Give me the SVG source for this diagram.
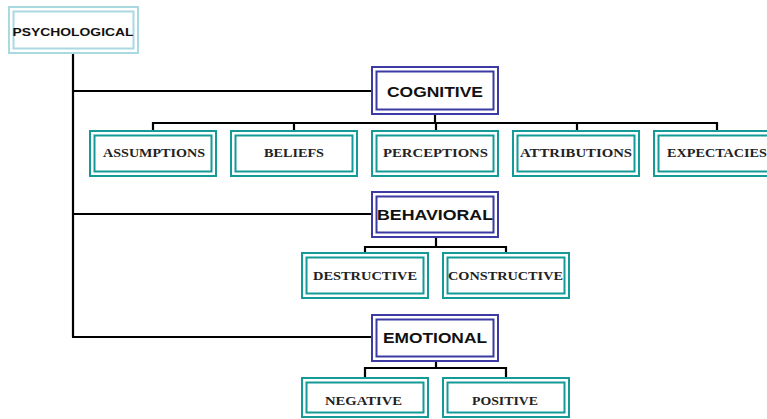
<svg xmlns="http://www.w3.org/2000/svg" width="767" height="419" viewBox="0 0 767 419">
<style>
.o{fill:#fff;stroke-width:2}
.i{fill:none;stroke-width:2}
.psy{stroke:#a9d9e1}
.par{stroke:#3b3ba3}
.ch{stroke:#149b97}
.ts{font-family:"Liberation Sans",Arial,sans-serif;font-weight:bold;fill:#111;text-anchor:middle}
.tr{font-family:"Liberation Serif","Times New Roman",serif;font-weight:bold;fill:#222;text-anchor:middle;font-size:11.5px}
.c{stroke:#000;stroke-width:2.2;fill:none}
</style>
<rect width="767" height="419" fill="#fff"/>
<g id="connectors">
<path class="c" d="M73 53V337M72 91H372M72 214H372M72 337H372" stroke-width="2.6"/>
<path class="c" d="M435 114V123M153 131V123H717V131M294 123V131M436 123V131M577 123V131"/>
<path class="c" d="M436 237V247M365 253V247H506V253"/>
<path class="c" d="M436 361V368M365 378V368H506V378"/>
</g>
<g id="psychological">
<rect class="o psy" x="9" y="7" width="129" height="46"/>
<rect class="i psy" x="13.5" y="11.5" width="120" height="37"/>
<text class="ts" x="73" y="35.5" font-size="11.5" textLength="121" lengthAdjust="spacingAndGlyphs">PSYCHOLOGICAL</text>
</g>
<g id="cognitive">
<rect class="o par" x="372" y="67" width="126" height="47"/>
<rect class="i par" x="376.5" y="71.5" width="117" height="38"/>
<text class="ts" x="435" y="97" font-size="15" textLength="96" lengthAdjust="spacingAndGlyphs">COGNITIVE</text>
</g>
<g id="assumptions">
<rect class="o ch" x="90" y="131" width="126" height="45"/>
<rect class="i ch" x="94.5" y="135.5" width="117" height="36"/>
<text class="tr" x="154" y="157" textLength="102" lengthAdjust="spacingAndGlyphs">ASSUMPTIONS</text>
</g>
<g id="beliefs">
<rect class="o ch" x="231" y="131" width="126" height="45"/>
<rect class="i ch" x="235.5" y="135.5" width="117" height="36"/>
<text class="tr" x="294" y="157" textLength="60" lengthAdjust="spacingAndGlyphs">BELIEFS</text>
</g>
<g id="perceptions">
<rect class="o ch" x="372" y="131" width="126" height="45"/>
<rect class="i ch" x="376.5" y="135.5" width="117" height="36"/>
<text class="tr" x="435.5" y="157" textLength="105" lengthAdjust="spacingAndGlyphs">PERCEPTIONS</text>
</g>
<g id="attributions">
<rect class="o ch" x="513" y="131" width="126" height="45"/>
<rect class="i ch" x="517.5" y="135.5" width="117" height="36"/>
<text class="tr" x="576" y="157" textLength="112" lengthAdjust="spacingAndGlyphs">ATTRIBUTIONS</text>
</g>
<g id="expectacies">
<rect class="o ch" x="654" y="131" width="126" height="45"/>
<rect class="i ch" x="658.5" y="135.5" width="117" height="36"/>
<text class="tr" x="717" y="157" textLength="100" lengthAdjust="spacingAndGlyphs">EXPECTACIES</text>
</g>
<g id="behavioral">
<rect class="o par" x="372" y="192" width="126" height="45"/>
<rect class="i par" x="376.5" y="196.5" width="117" height="36"/>
<text class="ts" x="435" y="220" font-size="15" textLength="116" lengthAdjust="spacingAndGlyphs">BEHAVIORAL</text>
</g>
<g id="destructive">
<rect class="o ch" x="302" y="253" width="126" height="45"/>
<rect class="i ch" x="306.5" y="257.5" width="117" height="36"/>
<text class="tr" x="365" y="280" textLength="104" lengthAdjust="spacingAndGlyphs">DESTRUCTIVE</text>
</g>
<g id="constructive">
<rect class="o ch" x="443" y="253" width="126" height="45"/>
<rect class="i ch" x="447.5" y="257.5" width="117" height="36"/>
<text class="tr" x="505.5" y="280" textLength="115" lengthAdjust="spacingAndGlyphs">CONSTRUCTIVE</text>
</g>
<g id="emotional">
<rect class="o par" x="372" y="315" width="126" height="46"/>
<rect class="i par" x="376.5" y="319.5" width="117" height="37"/>
<text class="ts" x="435" y="343" font-size="15" textLength="104" lengthAdjust="spacingAndGlyphs">EMOTIONAL</text>
</g>
<g id="negative">
<rect class="o ch" x="302" y="378" width="126" height="39"/>
<rect class="i ch" x="306.5" y="382.5" width="117" height="30"/>
<text class="tr" x="363.5" y="404.5" textLength="77" lengthAdjust="spacingAndGlyphs">NEGATIVE</text>
</g>
<g id="positive">
<rect class="o ch" x="443" y="378" width="126" height="39"/>
<rect class="i ch" x="447.5" y="382.5" width="117" height="30"/>
<text class="tr" x="505" y="404.5" textLength="66" lengthAdjust="spacingAndGlyphs">POSITIVE</text>
</g>
</svg>
